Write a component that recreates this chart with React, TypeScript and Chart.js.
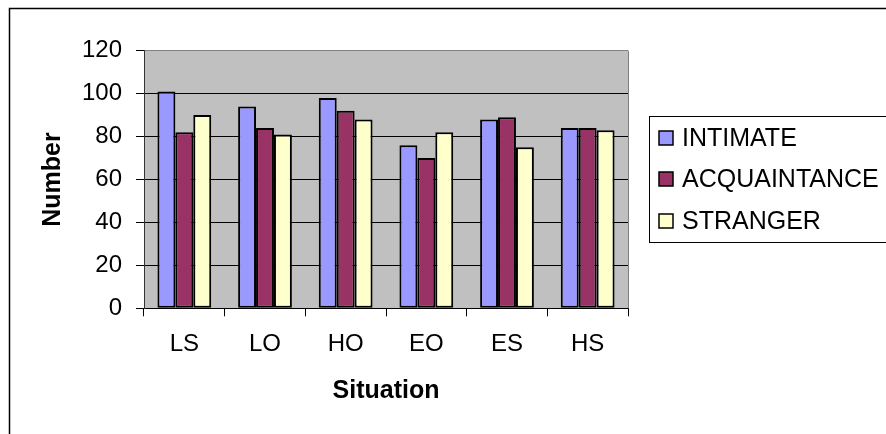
import React, { useEffect, useRef } from "react";
import { Chart, registerables } from "chart.js";

Chart.register(...registerables);

const categories = ["LS", "LO", "HO", "EO", "ES", "HS"];
const intimate = [101, 94, 98, 76, 88, 84];
const acquaintance = [82, 84, 92, 70, 89, 84];
const stranger = [90, 81, 88, 82, 75, 83];
const seriesNames = ["INTIMATE", "ACQUAINTANCE", "STRANGER"];
const seriesColors = ["#9999FF", "#993366", "#FFFFCC"];
const yTicks = { min: 0, max: 120, step: 20 };
const xTitle = "Situation";
const yTitle = "Number";

const FONT = "'Liberation Sans', Arial, sans-serif";

const decorPlugin = {
  id: "decor",
  beforeDraw(chart: any) {
    const { ctx, chartArea } = chart;
    ctx.save();
    ctx.fillStyle = "#ffffff";
    ctx.fillRect(0, 0, chart.width, chart.height);
    ctx.fillStyle = "#C0C0C0";
    ctx.fillRect(chartArea.left, chartArea.top, chartArea.right - chartArea.left, chartArea.bottom - chartArea.top);
    ctx.restore();
  },
  afterDraw(chart: any) {
    const { ctx, chartArea } = chart;
    ctx.save();
    // plot area right border (grey)
    ctx.strokeStyle = "#808080";
    ctx.lineWidth = 1;
    ctx.beginPath();
    ctx.moveTo(chartArea.right + 0.5, chartArea.top);
    ctx.lineTo(chartArea.right + 0.5, chartArea.bottom);
    ctx.stroke();
    // outer chart border (left + top visible)
    ctx.strokeStyle = "#000";
    ctx.lineWidth = 1.5;
    ctx.beginPath();
    ctx.moveTo(9.5, chart.height + 5);
    ctx.lineTo(9.5, 8.5);
    ctx.lineTo(chart.width + 5, 8.5);
    ctx.stroke();
    // legend
    ctx.lineWidth = 1;
    ctx.strokeStyle = "#000";
    ctx.strokeRect(649.5, 116.5, 300, 126);
    const rows = [138, 179, 221];
    chart.data.datasets.forEach((ds: any, i: number) => {
      const cy = rows[i];
      ctx.fillStyle = ds.backgroundColor;
      ctx.fillRect(659, cy - 7, 14, 14);
      ctx.lineWidth = 1.5;
      ctx.strokeStyle = "#000";
      ctx.strokeRect(659, cy - 7, 14, 14);
      ctx.fillStyle = "#000";
      ctx.font = `25px ${FONT}`;
      ctx.textBaseline = "middle";
      ctx.textAlign = "left";
      ctx.fillText(ds.label, 682, cy + 1);
    });
    ctx.restore();
  },
};

export default function App() {
  const ref = useRef<HTMLCanvasElement | null>(null);
  useEffect(() => {
    if (!ref.current) return;
    const seriesData = [intimate, acquaintance, stranger];
    const chart = new Chart(ref.current, {
      type: "bar",
      data: {
        labels: categories,
        datasets: seriesData.map((d, i) => ({
          label: seriesNames[i],
          data: d,
          backgroundColor: seriesColors[i],
          borderColor: "#000",
          borderWidth: 2,
          borderSkipped: false,
          barPercentage: 1,
          categoryPercentage: 2 / 3,
        })),
      },
      options: {
        animation: false,
        responsive: false,
        devicePixelRatio: 1,
        layout: { padding: { left: 12, top: 50.7, right: 258, bottom: 0 } },
        plugins: { legend: { display: false }, tooltip: { enabled: false } },
        scales: {
          x: {
            afterFit: (s: any) => { s.height = 125.7; },
            grid: {
              display: true,
              drawOnChartArea: false,
              drawTicks: true,
              tickLength: 8,
              offset: true,
              color: "#000",
              tickColor: "#000",
            },
            border: { display: true, color: "#000", width: 1 },
            ticks: { color: "#000", font: { family: FONT, size: 24 }, padding: 14 },
            title: {
              display: true,
              text: xTitle,
              color: "#000",
              font: { family: FONT, size: 25, weight: "bold" },
              padding: { top: 0, bottom: 28 },
            },
          },
          y: {
            min: yTicks.min,
            max: yTicks.max,
            afterFit: (s: any) => { s.width = 132; },
            grid: {
              color: (c: any) => (c.tick && c.tick.value === yTicks.max ? "#808080" : "#000"),
              tickColor: "#000",
              tickLength: 8,
              lineWidth: 1,
            },
            border: { display: true, color: "#333", width: 1 },
            ticks: {
              stepSize: yTicks.step,
              color: "#000",
              font: { family: FONT, size: 24 },
              padding: 14,
            },
            title: {
              display: true,
              text: yTitle,
              color: "#000",
              font: { family: FONT, size: 25, weight: "bold" },
              padding: { top: 26, bottom: 0 },
            },
          },
        },
      },
      plugins: [decorPlugin],
    });
    return () => chart.destroy();
  }, []);
  return (
    <div style={{ position: "fixed", left: 0, top: 0, width: 886, height: 434, background: "#fff" }}>
      <canvas ref={ref} width={886} height={434} style={{ display: "block", width: 886, height: 434 }} />
    </div>
  );
}
